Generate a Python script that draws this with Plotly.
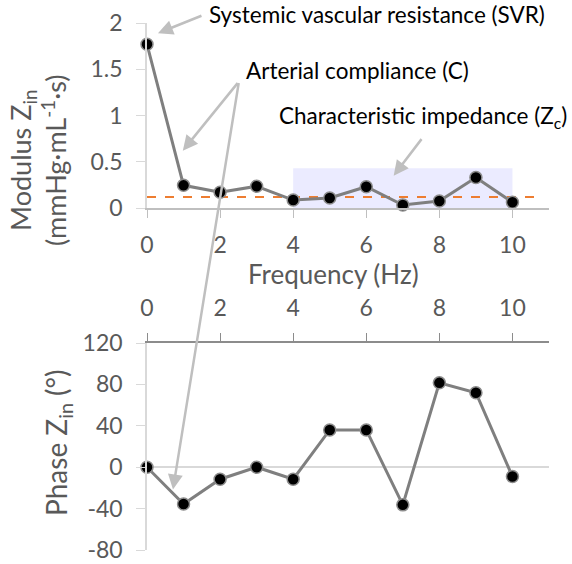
import plotly.graph_objects as go
from plotly.subplots import make_subplots

# Input impedance spectrum
freq_hz = [0, 1, 2, 3, 4, 5, 6, 7, 8, 9, 10]
modulus = [1.77, 0.245, 0.17, 0.235, 0.086, 0.108, 0.23, 0.032, 0.076, 0.33, 0.062]
phase_deg = [0, -35.5, -11.6, 0, -11.6, 36, 36, -36.4, 81.5, 72, -9]
zc_value = 0.12            # characteristic impedance (mean of high-frequency moduli)
zc_band = [4, 10]          # harmonics used for Zc
x_ticks = [0, 2, 4, 6, 8, 10]
mod_ticks = [0, 0.5, 1, 1.5, 2]
mod_tick_text = ["0", "0.5", "1", "1.5", "2"]
phase_ticks = [-80, -40, 0, 40, 80, 120]
phase_tick_text = ["-80", "-40", "0", "40", "80", "120"]

FONT = "Lato"
TICK_COLOR = "#595959"
LINE_COLOR = "#7F7F7F"
ARROW_COLOR = "#BFBFBF"

fig = make_subplots(rows=2, cols=1)

marker = dict(size=12, color="black", line=dict(color="#8C8C8C", width=1.5))
fig.add_trace(go.Scatter(x=freq_hz, y=modulus, mode="lines+markers",
                         line=dict(color=LINE_COLOR, width=3), marker=marker,
                         cliponaxis=False, showlegend=False), row=1, col=1)
fig.add_trace(go.Scatter(x=freq_hz, y=phase_deg, mode="lines+markers",
                         line=dict(color=LINE_COLOR, width=3), marker=marker,
                         cliponaxis=False, showlegend=False), row=2, col=1)

# Shaded high-frequency band and Zc level
fig.add_shape(type="rect", xref="x", yref="y", x0=zc_band[0], x1=zc_band[1],
              y0=0, y1=0.43, fillcolor="rgba(235,235,255,1)", line_width=0, layer="below")
fig.add_shape(type="line", xref="x", yref="y", x0=0, x1=10.7, y0=zc_value, y1=zc_value,
              line=dict(color="#ED7D31", width=2, dash="dash"), layer="below")

x0_px, x1_px = 147, 549
W, H = 572, 564
dom_x = [x0_px / W, x1_px / W]

fig.update_xaxes(range=[0, 11], tickvals=x_ticks, showgrid=False, zeroline=False,
                 ticks="outside", ticklen=8, tickwidth=1.3, showline=True, linewidth=1.5,
                 automargin=False, ticklabelstandoff=8,
                 tickfont=dict(family=FONT, size=23, color=TICK_COLOR), domain=dom_x)
fig.update_xaxes(row=1, col=1, linecolor="#BFBFBF", tickcolor="#BFBFBF")
fig.update_xaxes(row=2, col=1, side="top", linecolor="#8C8C8C", tickcolor="#8C8C8C")

fig.update_yaxes(showgrid=False, ticks="outside", ticklen=9, tickwidth=1.3,
                 showline=True, linewidth=1.5, linecolor="#D9D9D9", tickcolor="#D9D9D9",
                 automargin=False, ticklabelstandoff=9,
                 tickfont=dict(family=FONT, size=23, color=TICK_COLOR))
fig.update_yaxes(row=1, col=1, range=[0, 2], tickvals=mod_ticks, ticktext=mod_tick_text,
                 zeroline=False, domain=[(H - 208) / H, (H - 23) / H])
fig.update_yaxes(row=2, col=1, range=[-80, 120], tickvals=phase_ticks, ticktext=phase_tick_text,
                 zeroline=True, zerolinecolor="#D9D9D9", zerolinewidth=1.5,
                 domain=[(H - 550) / H, (H - 343) / H])

ann_font = dict(family=FONT, size=22.5, color="black")
title_font = dict(family=FONT, size=27, color=TICK_COLOR)
annotations = [
    dict(text="Frequency (Hz)", xref="paper", yref="paper",
         x=333 / W, y=1 - 274 / H, xanchor="center", yanchor="middle",
         showarrow=False, font=dict(family=FONT, size=26, color=TICK_COLOR)),
    dict(text="Modulus Z<sub>in</sub><br>(mmHg·mL<sup>-1</sup>·s)", xref="paper", yref="paper",
         x=38 / W, y=1 - 160 / H, xanchor="center", yanchor="middle",
         textangle=-90, showarrow=False, font=title_font),
    dict(text="Phase Z<sub>in</sub> (°)", xref="paper", yref="paper",
         x=58 / W, y=1 - 443 / H, xanchor="center", yanchor="middle",
         textangle=-90, showarrow=False, font=dict(family=FONT, size=28, color=TICK_COLOR)),
    dict(text="Systemic vascular resistance (SVR)", xref="paper", yref="paper",
         x=207 / W, y=1 - 15 / H, xanchor="left", yanchor="middle", showarrow=False, font=ann_font),
    dict(text="Arterial compliance (C)", xref="paper", yref="paper",
         x=244 / W, y=1 - 70 / H, xanchor="left", yanchor="middle", showarrow=False, font=ann_font),
    dict(text="Characteristic impedance (Z<sub>c</sub>)", xref="paper", yref="paper",
         x=277 / W, y=1 - 117 / H, xanchor="left", yanchor="middle", showarrow=False, font=ann_font),
]
arrow = dict(showarrow=True, arrowhead=2, arrowsize=1.2, arrowwidth=2.5,
             arrowcolor=ARROW_COLOR, text="", axref="pixel", ayref="pixel")
annotations += [
    dict(x=0.30, y=1.89, xref="x", yref="y", ax=45, ay=-18, **arrow),
    dict(x=0.98, y=0.62, xref="x", yref="y", ax=56, ay=-69, **arrow),
    dict(x=0.71, y=-21.5, xref="x2", yref="y2", ax=66, ay=-408, **arrow),
    dict(x=6.75, y=0.35, xref="x", yref="y", ax=29, ay=-38, **arrow),
]

fig.update_layout(width=W, height=H, margin=dict(l=0, r=0, t=0, b=0),
                  plot_bgcolor="white", paper_bgcolor="white",
                  annotations=annotations)

fig.write_html("out.html")
